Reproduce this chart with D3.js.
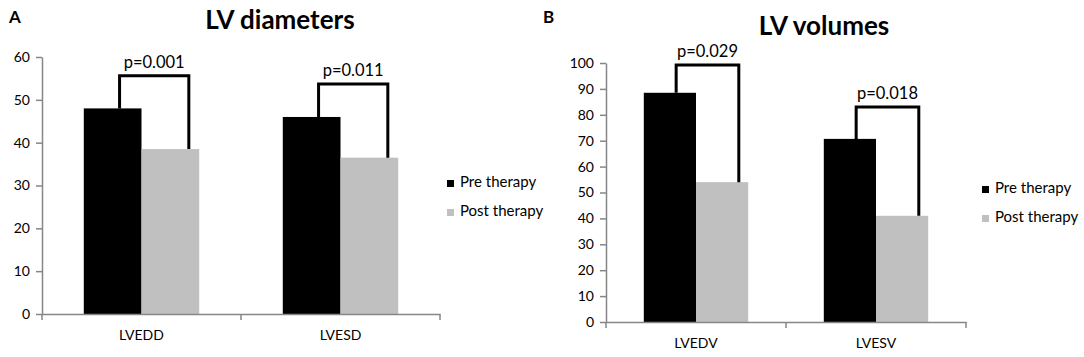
<!DOCTYPE html>
<meta charset="utf-8">
<style>
  body { margin: 0; background: #fff; }
  svg { display: block; font-family: Lato, "Open Sans", sans-serif; }
  .axis path, .axis line { stroke: #868686; stroke-width: 1.5; }
  .axis text { fill: #000; font-size: 14px; font-family: Lato, sans-serif; }
  .bracket { fill: none; stroke: #000; stroke-width: 3; }
  .ptext { font-size: 16.5px; text-anchor: middle; }
  .title { font-size: 26px; font-weight: bold; text-anchor: middle; }
  .panel { font-size: 17px; font-weight: bold; }
  .legend text { font-size: 15px; }
</style>
<body>
</body>
<script src="https://cdn.jsdelivr.net/npm/d3@7"></script>
<script>
  const series = ['Pre therapy', 'Post therapy'];
  const colors = ['#000000', '#c0c0c0'];

  // panel A
  const diamCats = ['LVEDD', 'LVESD'];
  const diamPre = [48, 46];
  const diamPost = [38.5, 36.5];
  const diamBracket = [55.6, 53.7];
  const diamP = ['p=0.001', 'p=0.011'];
  const diamTicks = [0, 10, 20, 30, 40, 50, 60];

  // panel B
  const volCats = ['LVEDV', 'LVESV'];
  const volPre = [88.5, 70.7];
  const volPost = [54, 41];
  const volBracket = [99.2, 83];
  const volP = ['p=0.029', 'p=0.018'];
  const volTicks = [0, 10, 20, 30, 40, 50, 60, 70, 80, 90, 100];

  const svg = d3.select('body').append('svg')
    .attr('width', 1084).attr('height', 357);

  function panel(o) {
    const g = svg.append('g');
    const x = d3.scaleBand().domain(o.cats).range([o.l, o.r]).paddingInner(0).paddingOuter(0);
    const y = d3.scaleLinear().domain([0, o.max]).range([o.b, o.t]);
    const bw = x.bandwidth() * 0.29;

    g.append('text').attr('class', 'panel').attr('x', o.labelX).attr('y', 23).text(o.label);
    g.append('text').attr('class', 'title').attr('x', o.titleX).attr('y', o.titleY).text(o.title);

    // bars
    const rows = o.cats.map((c, i) => ({c, v: [o.pre[i], o.post[i]], br: o.bracket[i], p: o.p[i]}));
    rows.forEach(d => {
      const x0 = x(d.c) + x.bandwidth() / 2 - bw;
      d.v.forEach((v, j) => {
        g.append('rect')
          .attr('x', x0 + j * bw).attr('y', y(v))
          .attr('width', bw).attr('height', y(0) - y(v))
          .attr('fill', colors[j]);
      });
      const lx = x0 + bw * 0.62, rx = x0 + bw * 1.82;
      g.append('path').attr('class', 'bracket')
        .attr('d', `M${lx},${y(d.v[0])}V${y(d.br)}H${rx}V${y(d.v[1])}`);
      g.append('text').attr('class', 'ptext')
        .attr('x', (lx + rx) / 2).attr('y', y(d.br) - 8).text(d.p);
    });

    // axes
    g.append('g').attr('class', 'axis')
      .attr('transform', `translate(${o.l},0)`)
      .call(d3.axisLeft(y).tickValues(o.ticks).tickSize(6).tickSizeOuter(0).tickPadding(6));
    const xa = g.append('g').attr('class', 'axis')
      .attr('transform', `translate(0,${o.b})`)
      .call(d3.axisBottom(x).tickSize(0).tickSizeOuter(0).tickPadding(16));
    xa.selectAll('.tick line').remove();
    xa.selectAll('.sep').data([o.l, (o.l + o.r) / 2, o.r]).join('line')
      .attr('class', 'sep').attr('x1', d => d).attr('x2', d => d)
      .attr('y1', 0).attr('y2', 6);

    // legend
    const lg = g.append('g').attr('class', 'legend');
    series.forEach((s, j) => {
      lg.append('rect').attr('x', o.legX).attr('y', o.legY + j * 29 - 7)
        .attr('width', 7).attr('height', 7).attr('fill', colors[j]);
      lg.append('text').attr('x', o.legX + 13).attr('y', o.legY + j * 29).text(s);
    });
  }

  panel({label: 'A', labelX: 9, title: 'LV diameters', titleX: 280, titleY: 29,
    cats: diamCats, pre: diamPre, post: diamPost, bracket: diamBracket, p: diamP,
    ticks: diamTicks, max: 60, l: 42, r: 440, t: 57, b: 314, legX: 447, legY: 187});

  panel({label: 'B', labelX: 543, title: 'LV volumes', titleX: 824, titleY: 35,
    cats: volCats, pre: volPre, post: volPost, bracket: volBracket, p: volP,
    ticks: volTicks, max: 100, l: 606, r: 966, t: 63, b: 322, legX: 982, legY: 193});
</script>
